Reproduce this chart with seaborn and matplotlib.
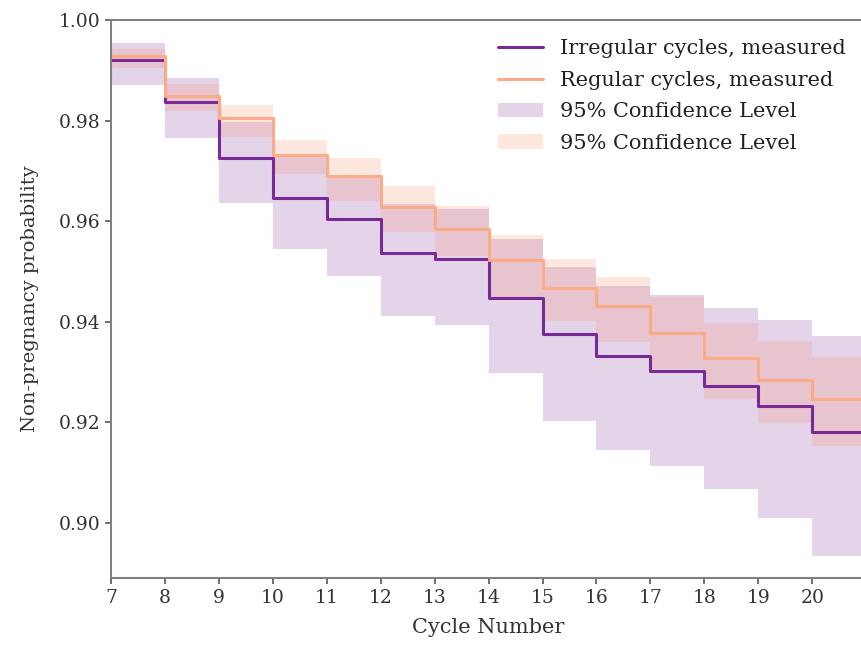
import matplotlib
matplotlib.use("Agg")
import matplotlib.pyplot as plt
from matplotlib.patches import Patch
from matplotlib.lines import Line2D
import numpy as np
import pandas as pd
import seaborn as sns

# cycle starts (each step runs to the next cycle)
cycles = [7, 8, 9, 10, 11, 12, 13, 14, 15, 16, 17, 18, 19, 20]
x_end = 21

irregular = [0.9921, 0.9837, 0.9725, 0.9647, 0.9604, 0.9537, 0.9524,
             0.9448, 0.9375, 0.9331, 0.9302, 0.9272, 0.9232, 0.9181]
irregular_hi = [0.9954, 0.9885, 0.9798, 0.9730, 0.9692, 0.9634, 0.9625,
                0.9564, 0.9508, 0.9471, 0.9453, 0.9428, 0.9404, 0.9371]
irregular_lo = [0.9871, 0.9765, 0.9636, 0.9544, 0.9491, 0.9412, 0.9393,
                0.9298, 0.9203, 0.9145, 0.9113, 0.9068, 0.9010, 0.8935]

regular = [0.9928, 0.9849, 0.9805, 0.9732, 0.9689, 0.9629, 0.9585,
           0.9522, 0.9468, 0.9431, 0.9377, 0.9327, 0.9285, 0.9247]
regular_hi = [0.9942, 0.9873, 0.9831, 0.9762, 0.9725, 0.9670, 0.9630,
              0.9572, 0.9524, 0.9488, 0.9450, 0.9398, 0.9362, 0.9329]
regular_lo = [0.9904, 0.9820, 0.9767, 0.9694, 0.9640, 0.9579, 0.9530,
              0.9448, 0.9402, 0.9359, 0.9305, 0.9246, 0.9199, 0.9153]

purple = "#7a2a96"
orange = "#fcab88"
purple_fill = "#7a2a96"
orange_fill = "#fc8961"

sns.set_theme(style="ticks")
plt.rcParams['font.family'] = ['DejaVu Serif']
plt.rcParams['axes.edgecolor'] = '#808080'
plt.rcParams['xtick.color'] = '#333333'
plt.rcParams['ytick.color'] = '#333333'

def steps(vals):
    # repeat last value so the final step reaches the right edge
    return list(vals) + [vals[-1]]

xs = cycles + [x_end]
df = pd.DataFrame({
    "cycle": xs * 2,
    "p": steps(irregular) + steps(regular),
    "group": ["Irregular cycles, measured"] * len(xs) + ["Regular cycles, measured"] * len(xs),
})

fig = plt.figure(figsize=(8.61, 6.46), dpi=100)
ax = fig.add_axes([0.129, 0.105, 0.877, 0.864])

ax.fill_between(xs, steps(irregular_lo), steps(irregular_hi), step="post",
                color=purple_fill, alpha=0.2, linewidth=0)
ax.fill_between(xs, steps(regular_lo), steps(regular_hi), step="post",
                color=orange_fill, alpha=0.2, linewidth=0)

sns.lineplot(data=df, x="cycle", y="p", hue="group", drawstyle="steps-post",
             palette={"Irregular cycles, measured": purple,
                      "Regular cycles, measured": orange},
             linewidth=2.2, ax=ax, legend=False, estimator=None)

ax.set_xlim(7, 21)
ax.set_ylim(0.889, 1.0)
ax.set_xticks(cycles)
ax.set_yticks([0.90, 0.92, 0.94, 0.96, 0.98, 1.00])
ax.set_yticklabels(["0.90", "0.92", "0.94", "0.96", "0.98", "1.00"])
ax.tick_params(labelsize=13.5, length=4, width=1.2, color='#555555')
ax.set_xlabel("Cycle Number", fontsize=15, color='#333333', labelpad=8)
ax.set_ylabel("Non-pregnancy probability", fontsize=14, color='#333333', labelpad=14)
for s in ax.spines.values():
    s.set_linewidth(1.5)

handles = [
    Line2D([0], [0], color=purple, lw=2.2),
    Line2D([0], [0], color=orange, lw=2.2),
    Patch(facecolor=purple_fill, alpha=0.2, edgecolor='none'),
    Patch(facecolor=orange_fill, alpha=0.2, edgecolor='none'),
]
labels = ["Irregular cycles, measured", "Regular cycles, measured",
          "95% Confidence Level", "95% Confidence Level"]
leg = ax.legend(handles, labels, loc="upper right", bbox_to_anchor=(0.998, 0.999),
                frameon=False, fontsize=15, labelcolor='#222222',
                handlelength=2.2, handletextpad=0.8, labelspacing=0.6)

fig.savefig("out.png", dpi=100)
